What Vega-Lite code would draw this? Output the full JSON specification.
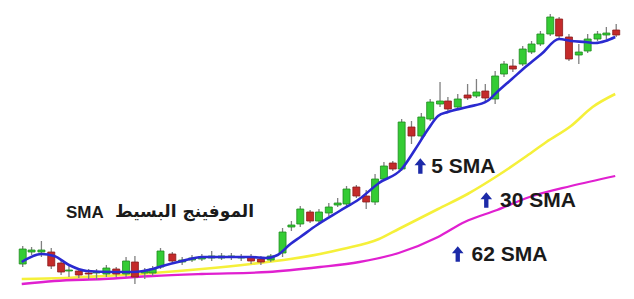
{
  "$schema": "https://vega.github.io/schema/vega-lite/v6.json",
  "width": 634,
  "height": 299,
  "autosize": {"type": "fit", "contains": "padding"},
  "padding": 0,
  "background": "#ffffff",
  "config": {"view": {"stroke": null}},
  "datasets": {
    "candles": [
      {"t":18,"open":35,"close":50,"high":53,"low":32},
      {"t":27,"open":47,"close":49,"high":52,"low":44},
      {"t":37,"open":47,"close":49,"high":58,"low":42},
      {"t":47,"open":47,"close":33,"high":51,"low":30},
      {"t":57,"open":36,"close":27,"high":39,"low":24},
      {"t":65,"open":28,"close":29,"high":33,"low":22},
      {"t":75,"open":28,"close":24,"high":30,"low":21},
      {"t":85,"open":26,"close":25,"high":30,"low":20},
      {"t":93,"open":26,"close":27,"high":30,"low":19},
      {"t":103,"open":25,"close":31,"high":34,"low":22},
      {"t":113,"open":30,"close":25,"high":32,"low":22},
      {"t":123,"open":25,"close":38,"high":42,"low":22},
      {"t":132,"open":37,"close":22,"high":43,"low":15},
      {"t":142,"open":26,"close":28,"high":31,"low":20},
      {"t":150,"open":26,"close":30,"high":33,"low":23},
      {"t":158,"open":32,"close":48,"high":51,"low":30},
      {"t":170,"open":45,"close":38,"high":47,"low":36},
      {"t":180,"open":37,"close":39,"high":42,"low":34},
      {"t":190,"open":39,"close":41,"high":44,"low":37},
      {"t":200,"open":40,"close":42,"high":45,"low":38},
      {"t":210,"open":41,"close":43,"high":48,"low":38},
      {"t":220,"open":41,"close":43,"high":46,"low":39},
      {"t":230,"open":42,"close":43,"high":46,"low":39},
      {"t":240,"open":41,"close":42,"high":45,"low":38},
      {"t":250,"open":42,"close":38,"high":45,"low":35},
      {"t":260,"open":40,"close":37,"high":43,"low":34},
      {"t":270,"open":39,"close":43,"high":45,"low":37},
      {"t":282,"open":46,"close":67,"high":71,"low":42},
      {"t":291,"open":72,"close":74,"high":78,"low":68},
      {"t":300,"open":75,"close":90,"high":93,"low":72},
      {"t":310,"open":87,"close":78,"high":89,"low":76},
      {"t":319,"open":78,"close":87,"high":90,"low":76},
      {"t":329,"open":86,"close":92,"high":96,"low":83},
      {"t":338,"open":94,"close":96,"high":101,"low":92},
      {"t":347,"open":95,"close":110,"high":113,"low":93},
      {"t":357,"open":112,"close":103,"high":114,"low":101},
      {"t":367,"open":103,"close":97,"high":109,"low":90},
      {"t":376,"open":97,"close":120,"high":125,"low":94},
      {"t":385,"open":120,"close":133,"high":137,"low":118},
      {"t":394,"open":136,"close":130,"high":138,"low":128},
      {"t":403,"open":130,"close":177,"high":180,"low":128},
      {"t":413,"open":172,"close":163,"high":178,"low":155},
      {"t":423,"open":163,"close":182,"high":186,"low":160},
      {"t":432,"open":180,"close":197,"high":200,"low":178},
      {"t":442,"open":195,"close":198,"high":217,"low":192},
      {"t":450,"open":198,"close":190,"high":202,"low":188},
      {"t":460,"open":192,"close":200,"high":205,"low":190},
      {"t":470,"open":204,"close":201,"high":215,"low":199},
      {"t":479,"open":203,"close":207,"high":220,"low":201},
      {"t":488,"open":208,"close":201,"high":215,"low":198},
      {"t":498,"open":200,"close":223,"high":228,"low":195},
      {"t":507,"open":225,"close":235,"high":238,"low":222},
      {"t":516,"open":233,"close":230,"high":240,"low":227},
      {"t":526,"open":235,"close":250,"high":253,"low":233},
      {"t":535,"open":247,"close":255,"high":258,"low":245},
      {"t":544,"open":255,"close":265,"high":268,"low":253},
      {"t":554,"open":265,"close":282,"high":285,"low":263},
      {"t":563,"open":280,"close":263,"high":282,"low":260},
      {"t":573,"open":262,"close":240,"high":265,"low":238},
      {"t":583,"open":244,"close":247,"high":255,"low":235},
      {"t":592,"open":248,"close":260,"high":265,"low":246},
      {"t":602,"open":260,"close":265,"high":268,"low":258},
      {"t":611,"open":264,"close":266,"high":272,"low":260},
      {"t":621,"open":269,"close":264,"high":275,"low":262}
    ],
    "sma5": [
      {"t":17,"v":37},{"t":37,"v":45},{"t":50,"v":43},{"t":65,"v":34},{"t":83,"v":28},
      {"t":110,"v":27},{"t":130,"v":27},{"t":150,"v":30},{"t":160,"v":33},{"t":180,"v":38},
      {"t":200,"v":42},{"t":250,"v":42},{"t":265,"v":41},{"t":277,"v":44},{"t":290,"v":55},
      {"t":300,"v":62},{"t":317,"v":74},{"t":340,"v":88},{"t":360,"v":100},{"t":380,"v":116},
      {"t":403,"v":130},{"t":417,"v":150},{"t":430,"v":170},{"t":440,"v":183},{"t":450,"v":187},
      {"t":470,"v":192},{"t":490,"v":198},{"t":500,"v":207},{"t":515,"v":220},{"t":530,"v":233},
      {"t":545,"v":245},{"t":563,"v":260},{"t":575,"v":258},{"t":590,"v":257},{"t":600,"v":256},
      {"t":610,"v":258},{"t":620,"v":262}
    ],
    "sma30": [
      {"t":17,"v":20},{"t":60,"v":21},{"t":100,"v":23},{"t":150,"v":26},{"t":200,"v":30},
      {"t":250,"v":35},{"t":290,"v":40},{"t":320,"v":45},{"t":343,"v":50},{"t":380,"v":60},
      {"t":400,"v":70},{"t":440,"v":90},{"t":470,"v":105},{"t":500,"v":123},{"t":530,"v":143},
      {"t":550,"v":157},{"t":575,"v":173},{"t":597,"v":192},{"t":620,"v":205}
    ],
    "sma62": [
      {"t":17,"v":15},{"t":50,"v":18},{"t":100,"v":20},{"t":150,"v":23},{"t":200,"v":25},
      {"t":267,"v":27},{"t":320,"v":32},{"t":360,"v":37},{"t":400,"v":46},{"t":440,"v":62},
      {"t":467,"v":77},{"t":500,"v":89},{"t":533,"v":102},{"t":575,"v":113},{"t":620,"v":123}
    ],
    "arrows": [
      {"t":422,"v":133},{"t":489,"v":99},{"t":460,"v":45}
    ],
    "labels": [
      {"t":433,"v":132,"label":"5 SMA"},
      {"t":503,"v":98,"label":"30 SMA"},
      {"t":474,"v":44,"label":"62 SMA"}
    ]
  },
  "encoding": {
    "x": {"field": "t", "type": "quantitative", "scale": {"domain": [0, 634], "nice": false, "zero": false}, "axis": null},
    "y": {"type": "quantitative", "scale": {"domain": [0, 299], "nice": false, "zero": false}, "axis": null}
  },
  "layer": [
    {
      "data": {"name": "sma30"},
      "mark": {"type": "line", "color": "#f5f03a", "strokeWidth": 2.6, "interpolate": "monotone"},
      "encoding": {"y": {"field": "v", "type": "quantitative", "scale": {"domain": [0, 299], "nice": false, "zero": false}, "axis": null}}
    },
    {
      "data": {"name": "sma62"},
      "mark": {"type": "line", "color": "#e020d0", "strokeWidth": 2.3, "interpolate": "monotone"},
      "encoding": {"y": {"field": "v", "type": "quantitative", "axis": null}}
    },
    {
      "data": {"name": "candles"},
      "mark": {"type": "rule", "color": "#808080", "strokeWidth": 1.3},
      "encoding": {
        "y": {"field": "low", "type": "quantitative", "axis": null},
        "y2": {"field": "high"}
      }
    },
    {
      "data": {"name": "candles"},
      "mark": {"type": "bar", "size": 7, "strokeWidth": 0.8},
      "encoding": {
        "y": {"field": "open", "type": "quantitative", "axis": null},
        "y2": {"field": "close"},
        "color": {"condition": {"test": "datum.close >= datum.open", "value": "#34cc34"}, "value": "#c42a2a"},
        "stroke": {"condition": {"test": "datum.close >= datum.open", "value": "#1f8c1f"}, "value": "#8a1c1c"}
      }
    },
    {
      "data": {"name": "sma5"},
      "mark": {"type": "line", "color": "#2a2ad0", "strokeWidth": 2.6, "interpolate": "monotone"},
      "encoding": {"y": {"field": "v", "type": "quantitative", "axis": null}}
    },
    {
      "data": {"name": "arrows"},
      "mark": {"type": "point", "shape": "M0,-1L0.75,-0.1L0.28,-0.1L0.28,1L-0.28,1L-0.28,-0.1L-0.75,-0.1Z", "filled": true, "color": "#1c2aa8", "size": 240, "opacity": 1},
      "encoding": {"y": {"field": "v", "type": "quantitative", "axis": null}}
    },
    {
      "data": {"name": "labels"},
      "mark": {"type": "text", "align": "left", "baseline": "middle", "font": "Liberation Sans", "fontWeight": "bold", "fontSize": 21, "color": "#1a1a1a"},
      "encoding": {
        "y": {"field": "v", "type": "quantitative", "axis": null},
        "text": {"field": "label"}
      }
    },
    {
      "data": {"values": [{"t": 62, "v": 86, "label": "SMA"}]},
      "mark": {"type": "text", "align": "left", "baseline": "middle", "font": "Liberation Sans", "fontWeight": "bold", "fontSize": 17, "color": "#1a1a1a"},
      "encoding": {
        "y": {"field": "v", "type": "quantitative", "axis": null},
        "text": {"field": "label"}
      }
    },
    {
      "data": {"values": [{"t": 253, "v": 87, "label": "الموفينج البسيط"}]},
      "mark": {"type": "text", "align": "right", "baseline": "middle", "font": "DejaVu Sans", "fontWeight": "bold", "fontSize": 17, "color": "#1a1a1a"},
      "encoding": {
        "y": {"field": "v", "type": "quantitative", "axis": null},
        "text": {"field": "label"}
      }
    }
  ]
}
